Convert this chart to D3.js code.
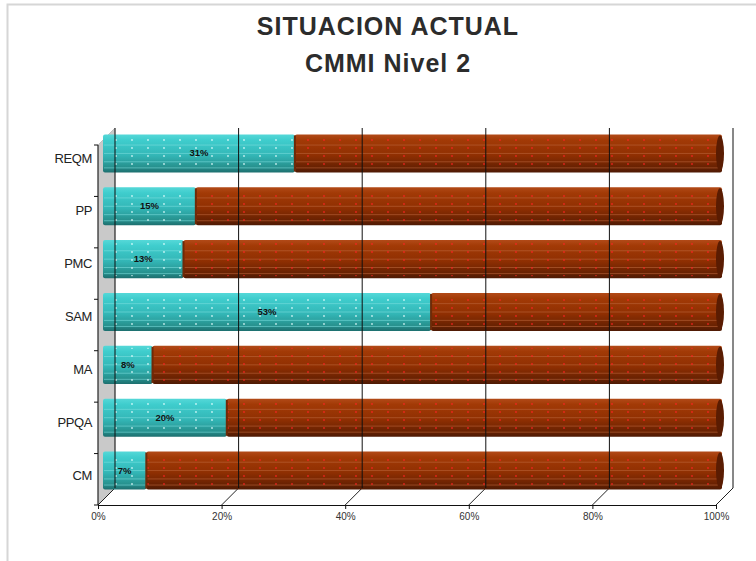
<!DOCTYPE html>
<html lang="es">
<head>
<meta charset="UTF-8">
<title>Situacion actual CMMI</title>
<script src="https://d3js.org/d3.v7.min.js"></script>
<style>
  body { margin: 0; background: #fff; }
  svg { display: block; font-family: "Liberation Sans", Arial, sans-serif; }
</style>
</head>
<body>
<div id="chart"></div>
<script>
// data
var categories = ["REQM", "PP", "PMC", "SAM", "MA", "PPQA", "CM"];
var cumple = [31, 15, 13, 53, 8, 20, 7];       // teal part, %
var falta = cumple.map(function(v) { return 100 - v; });
var tickLabels = ["0%", "20%", "40%", "60%", "80%", "100%"];
var titleLines = ["SITUACION ACTUAL", "CMMI Nivel 2"];

var W = 756, H = 561;
var depth = 17;              // 3d offset of back wall
var front = {left: 98, right: 716, top: 145, bottom: 505};

var svg = d3.select("#chart").append("svg")
    .attr("width", W).attr("height", H);

// frame
svg.append("path")
    .attr("d", "M7.5," + H + "V4.5H" + W)
    .attr("fill", "none").attr("stroke", "#d6d6d6").attr("stroke-width", 2);

// title
svg.selectAll(".title").data(titleLines).enter().append("text")
    .attr("class", "title")
    .attr("x", 388).attr("y", function(d, i) { return 35 + i * 37; })
    .attr("text-anchor", "middle")
    .attr("font-size", 25).attr("font-weight", "bold").attr("fill", "#2c2c2c")
    .attr("letter-spacing", 1)
    .text(function(d) { return d; });

var defs = svg.append("defs");
function grad(id, stops) {
  var g = defs.append("linearGradient").attr("id", id)
      .attr("x1", 0).attr("y1", 0).attr("x2", 0).attr("y2", 1);
  stops.forEach(function(s) {
    g.append("stop").attr("offset", s[0]).attr("stop-color", s[1]);
  });
}
grad("gTeal", [[0, "#55d8d8"], [0.15, "#3fcdcd"], [0.55, "#33b6b6"], [0.85, "#27928f"], [1, "#1d6f6f"]]);
grad("gBrown", [[0, "#b24a18"], [0.15, "#a23a06"], [0.55, "#8f2f02"], [0.85, "#6a2202"], [1, "#4e1a04"]]);

function dots(id, color) {
  var p = defs.append("pattern").attr("id", id)
      .attr("patternUnits", "userSpaceOnUse").attr("width", 16).attr("height", 8);
  p.append("circle").attr("cx", 4).attr("cy", 4).attr("r", 0.9).attr("fill", color);
}
dots("dTeal", "#e8ffff");
dots("dBrown", "#ff2020");

// scales
var x = d3.scaleLinear().domain([0, 100]).range([103, 722]);
var xFront = d3.scaleLinear().domain([0, 100]).range([front.left, front.right]);
var y = d3.scaleBand().domain(categories).range([127, 497]).paddingInner(0.28).paddingOuter(0.14);
var yFront = d3.scaleBand().domain(categories).range([front.top, front.bottom]);

// left side wall
svg.append("path")
    .attr("d", "M" + front.left + "," + front.bottom +
               "V" + front.top +
               "L" + (front.left + depth) + "," + (front.top - depth) +
               "V" + (front.bottom - depth) + "Z")
    .attr("fill", "#c9c9c9").attr("stroke", "#9a9a9a").attr("stroke-width", 0.5);

var ticks = d3.range(0, 101, 20);

// floor diagonals
svg.selectAll(".diag").data(ticks).enter().append("line")
    .attr("x1", function(d) { return xFront(d); }).attr("y1", front.bottom)
    .attr("x2", function(d) { return xFront(d) + depth; }).attr("y2", front.bottom - depth)
    .attr("stroke", "#222").attr("stroke-width", 1);

// stacked bars
var rows = categories.map(function(c, i) { return {cat: c, cumple: cumple[i], falta: falta[i]}; });
var stack = d3.stack().keys(["cumple", "falta"])(rows);
var fills = {cumple: ["url(#gTeal)", "url(#dTeal)", "#7fe0e0"], falta: ["url(#gBrown)", "url(#dBrown)", "#c06a40"]};

stack.forEach(function(layer) {
  var f = fills[layer.key];
  var g = svg.append("g");
  var seg = g.selectAll("g").data(layer).enter().append("g");
  seg.append("rect")
      .attr("x", function(d) { return x(d[0]); })
      .attr("y", function(d) { return y(d.data.cat); })
      .attr("width", function(d) { return x(d[1]) - x(d[0]); })
      .attr("height", y.bandwidth())
      .attr("rx", 2)
      .attr("fill", f[0]);
  // horizontal stripes
  [0.28, 0.5, 0.72, 0.88].forEach(function(t) {
    seg.append("line")
        .attr("x1", function(d) { return x(d[0]) + 1; })
        .attr("x2", function(d) { return x(d[1]) - 1; })
        .attr("y1", function(d) { return y(d.data.cat) + y.bandwidth() * t; })
        .attr("y2", function(d) { return y(d.data.cat) + y.bandwidth() * t; })
        .attr("stroke", f[2]).attr("stroke-opacity", 0.55).attr("stroke-width", 1);
  });
  seg.append("rect")
      .attr("x", function(d) { return x(d[0]); })
      .attr("y", function(d) { return y(d.data.cat) + 2; })
      .attr("width", function(d) { return x(d[1]) - x(d[0]); })
      .attr("height", y.bandwidth() - 4)
      .attr("fill", f[1]).attr("opacity", 0.8);
});

// right end caps
svg.selectAll(".cap").data(rows).enter().append("ellipse")
    .attr("cx", x(100) - 2)
    .attr("cy", function(d) { return y(d.cat) + y.bandwidth() / 2; })
    .attr("rx", 4).attr("ry", y.bandwidth() / 2 - 1)
    .attr("fill", "#5a1c02");

// segment divider edge (end of teal part)
svg.selectAll(".edge").data(rows).enter().append("line")
    .attr("x1", function(d) { return x(d.cumple); })
    .attr("x2", function(d) { return x(d.cumple); })
    .attr("y1", function(d) { return y(d.cat) + 1; })
    .attr("y2", function(d) { return y(d.cat) + y.bandwidth() - 1; })
    .attr("stroke", "#6f2a08").attr("stroke-width", 2);

// back gridlines (drawn over the bars like the original)
svg.selectAll(".grid").data(ticks).enter().append("line")
    .attr("x1", function(d) { return xFront(d) + depth; })
    .attr("x2", function(d) { return xFront(d) + depth; })
    .attr("y1", front.top - depth).attr("y2", front.bottom - depth)
    .attr("stroke", "#111").attr("stroke-width", 1);

// value labels
svg.selectAll(".val").data(rows).enter().append("text")
    .attr("x", function(d) { return x(d.cumple / 2); })
    .attr("y", function(d) { return y(d.cat) + y.bandwidth() / 2 + 3; })
    .attr("text-anchor", "middle")
    .attr("font-size", 9.5).attr("font-weight", "bold").attr("fill", "#111")
    .text(function(d) { return d.cumple + "%"; });

// y axis: labels sit next to the bars, line and ticks on the front edge
var yAxis = d3.axisLeft(y).tickSize(0).tickPadding(6);
var ya = svg.append("g").attr("transform", "translate(" + front.left + ",5)").call(yAxis);
ya.select(".domain").remove();
ya.selectAll("text").attr("font-size", 13).attr("fill", "#222")
    .attr("font-family", "Liberation Sans, Arial, sans-serif")
    .attr("letter-spacing", -0.4);
svg.append("line")
    .attr("x1", front.left).attr("x2", front.left)
    .attr("y1", front.top).attr("y2", front.bottom)
    .attr("stroke", "#111");
svg.selectAll(".bnd").data(categories.concat([null])).enter().append("line")
    .attr("x1", front.left - 4).attr("x2", front.left)
    .attr("y1", function(d, i) { return front.top + i * yFront.step(); })
    .attr("y2", function(d, i) { return front.top + i * yFront.step(); })
    .attr("stroke", "#111");

// x axis
var xAxis = d3.axisBottom(xFront).tickValues(ticks)
    .tickFormat(function(d, i) { return tickLabels[i]; })
    .tickSize(4).tickPadding(4);
var xa = svg.append("g").attr("transform", "translate(0," + front.bottom + ")").call(xAxis);
xa.select(".domain").attr("stroke", "#111");
xa.selectAll("line").attr("stroke", "#111");
xa.selectAll("text").attr("font-size", 10).attr("fill", "#333")
    .attr("font-family", "Liberation Sans, Arial, sans-serif");
</script>
</body>
</html>
